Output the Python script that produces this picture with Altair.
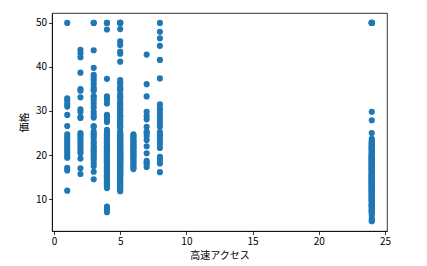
import altair as alt
import pandas as pd

rad1 = [50.0, 32.9, 32.4, 31.6, 31.0, 29.1, 26.6, 24.7, 24.1, 23.5, 23.0, 22.4, 21.8,
        21.2, 20.6, 20.0, 19.4, 17.1, 16.5, 11.9]
rad2 = [43.9, 43.1, 42.2, 38.7, 35.0, 34.6, 33.1, 30.4, 29.8, 28.4, 28.7, 25.0, 24.6,
        24.2, 23.6, 23.1, 22.5, 22.0, 21.4, 20.8, 20.4, 19.2, 17.0, 15.7]
rad3 = [50.0, 50.0, 43.8, 39.8, 38.2, 37.6, 37.0, 36.2, 35.4, 34.9, 34.6, 33.4, 33.1,
        32.4, 31.6, 30.8, 29.8, 29.1, 28.5, 26.6, 26.4, 25.3, 24.8, 24.4, 23.9, 23.1,
        22.6, 22.0, 21.5, 21.0, 20.6, 20.0, 19.4, 18.9, 18.2, 17.5, 16.2, 14.5]
rad4 = [50.0, 50.0, 48.5, 37.3, 33.3, 33.0, 32.5, 31.7, 29.1, 28.7, 28.0, 27.5, 25.7,
        25.0, 24.8, 24.5, 24.3, 24.0, 23.8, 23.6, 23.3, 23.1, 22.9, 22.7, 22.5, 22.2,
        22.0, 21.8, 21.7, 21.5, 21.2, 21.0, 20.8, 20.6, 20.4, 20.3, 20.1, 19.9, 19.7,
        19.6, 19.4, 19.3, 19.1, 18.9, 18.7, 18.5, 18.4, 18.2, 18.0, 17.8, 17.5, 17.4,
        17.2, 17.1, 16.8, 16.6, 16.4, 16.2, 16.0, 15.7, 15.6, 15.4, 15.2, 15.0, 14.8,
        14.5, 14.4, 14.1, 13.9, 13.6, 13.4, 13.3, 13.1, 12.8, 12.7, 12.5, 8.3, 7.6, 7.0,
        24.4, 23.9, 23.0, 22.6, 21.9, 21.4, 20.9, 20.5, 20.0, 19.5, 18.8, 18.3, 17.7,
        16.7, 16.1, 15.3, 14.9, 14.3, 13.8, 13.5, 20.2, 21.6, 19.8, 22.8, 23.4, 18.6,
        17.0, 19.0, 19.2, 20.7, 25.3]
rad5 = [50.0, 50.0, 50.0, 50.0, 48.6, 45.8, 45.0, 43.5, 43.0, 41.2, 37.0, 36.5, 36.2,
        35.4, 34.9, 34.7, 33.8, 33.3, 32.7, 32.0, 31.6, 31.2, 30.7, 30.1, 29.6, 29.0,
        28.6, 28.1, 27.5, 27.0, 26.6, 26.2, 25.3, 25.0, 24.8, 24.6, 24.4, 24.1, 23.9,
        23.7, 23.4, 23.2, 23.0, 22.8, 22.6, 22.3, 22.2, 22.0, 21.7, 21.5, 21.4, 21.2,
        21.0, 20.8, 20.6, 20.5, 20.3, 20.1, 20.0, 19.8, 19.6, 19.5, 19.4, 19.2, 19.0,
        18.9, 18.7, 18.5, 18.4, 18.2, 18.0, 17.8, 17.6, 17.4, 17.2, 17.0, 16.8, 16.6,
        16.4, 16.1, 15.9, 15.6, 15.3, 15.0, 14.6, 14.3, 13.9, 13.5, 13.1, 12.7, 12.1,
        11.8, 24.5, 23.8, 23.1, 22.4, 21.9, 21.1, 20.4, 19.9, 19.1, 18.6, 17.9, 17.1,
        16.3, 15.4, 14.1, 13.3, 12.4, 28.8, 30.4, 27.8, 33.1, 35.1, 26.4]
rad6 = [24.7, 24.4, 24.1, 23.8, 23.4, 23.1, 22.8, 22.5, 22.2, 21.9, 21.7, 21.4, 21.1,
        20.8, 20.5, 20.2, 19.9, 19.6, 19.3, 19.0, 18.6, 18.3, 17.9, 17.5, 17.1, 16.8]
rad7 = [42.8, 36.1, 33.3, 29.8, 28.9, 28.1, 26.4, 25.3, 24.3, 25.0, 23.4, 22.0, 20.4,
        18.7, 18.2, 18.0, 17.3]
rad8 = [50.0, 48.0, 46.5, 44.8, 41.6, 37.4, 31.5, 30.6, 30.1, 29.4, 28.7, 27.9, 27.1,
        26.4, 25.2, 24.6, 24.0, 23.2, 22.5, 21.6, 19.6, 18.9, 18.1, 16.1]
rad24 = [50.0, 50.0, 50.0, 50.0, 50.0, 29.8, 27.9, 25.0, 23.7, 23.2, 23.0, 22.7, 22.6,
         22.3, 22.0, 21.9, 21.7, 21.4, 21.2, 21.0, 20.8, 20.6, 20.4, 20.1, 20.0, 19.9,
         19.6, 19.5, 19.3, 19.1, 19.0, 18.8, 18.7, 18.5, 18.4, 18.3, 18.1, 17.9, 17.8,
         17.7, 17.5, 17.4, 17.2, 17.1, 16.8, 16.7, 16.5, 16.3, 16.1, 15.9, 15.7, 15.6,
         15.4, 15.2, 15.1, 15.0, 14.9, 14.6, 14.5, 14.3, 14.1, 14.0, 13.9, 13.8, 13.6,
         13.4, 13.3, 13.1, 13.0, 12.8, 12.7, 12.5, 12.3, 12.1, 12.0, 11.9, 11.8, 11.7,
         11.5, 11.3, 11.0, 10.9, 10.8, 10.5, 10.4, 10.2, 10.1, 9.7, 9.6, 9.5, 9.2, 8.8,
         8.7, 8.5, 8.4, 8.3, 8.1, 7.5, 7.4, 7.2, 7.0, 6.3, 5.6, 5.0, 5.0, 13.2, 14.4,
         15.3, 16.2, 17.3, 18.2, 19.4, 20.2, 21.5, 22.1, 12.6, 11.4, 10.6, 9.9, 8.9,
         7.8, 6.8, 16.6, 14.8, 13.5, 12.2, 10.0, 19.7, 18.9, 17.0, 15.5, 13.7]

groups = [(1, rad1), (2, rad2), (3, rad3), (4, rad4), (5, rad5), (6, rad6),
          (7, rad7), (8, rad8), (24, rad24)]
rows = [{"rad": r, "price": v} for r, vals in groups for v in vals]
df = pd.DataFrame(rows)

font = "Noto Sans CJK JP"

chart = alt.Chart(df).mark_circle(size=38, opacity=1, color="#1f77b4").encode(
    x=alt.X("rad:Q", title="高速アクセス",
            scale=alt.Scale(domain=[-0.15, 25.15], nice=False, zero=False),
            axis=alt.Axis(values=[0, 5, 10, 15, 20, 25], format="d", grid=False,
                          tickSize=3.5, labelPadding=2, titlePadding=4,
                          titleFontWeight=400, titleFont=font, titleFontSize=10)),
    y=alt.Y("price:Q", title="価格",
            scale=alt.Scale(domain=[2.75, 52.25], nice=False, zero=False),
            axis=alt.Axis(values=[10, 20, 30, 40, 50], format="d", grid=False,
                          tickSize=3.5, labelPadding=2, titlePadding=6,
                          titleFontWeight=400, titleFont=font, titleFontSize=10)),
).properties(
    width=335, height=218,
    background="white",
    autosize=alt.AutoSizeParams(type="none"),
    padding={"left": 52, "top": 13, "right": 40, "bottom": 35},
).configure_view(
    stroke="#000000", strokeWidth=0.8, strokeOpacity=1
).configure_axis(
    domainColor="black", domainWidth=0.8, tickColor="black", tickWidth=0.8,
    labelFont=font, labelFontSize=10,
    labelColor="black", titleColor="black",
)

chart.save("out.html", embed_options={"renderer": "svg", "actions": False})
